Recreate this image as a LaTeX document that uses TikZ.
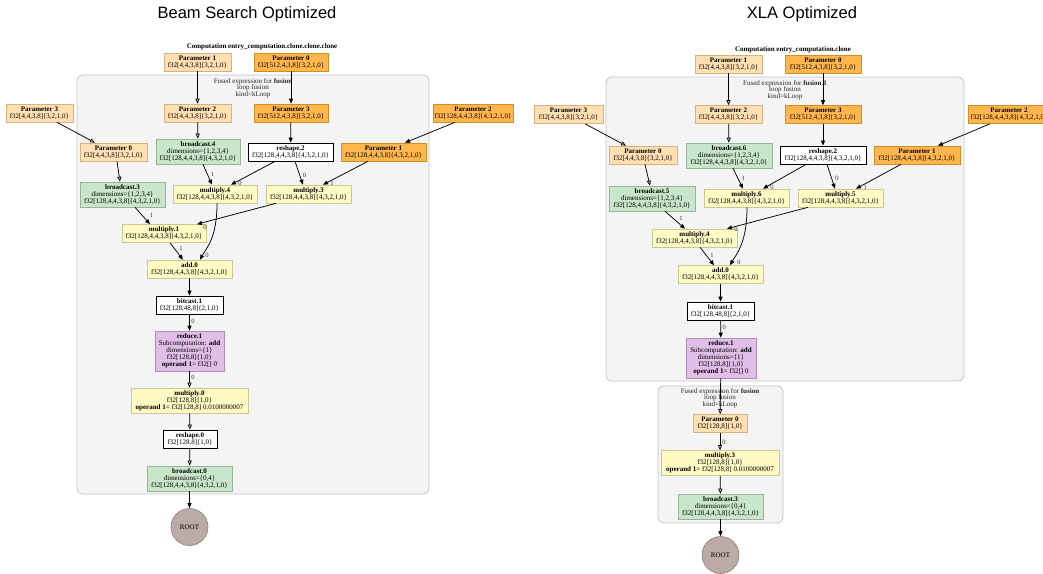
\documentclass[tikz,border=0pt]{standalone}
\usepackage{fontspec}
\setmainfont{Liberation Serif}
\newfontfamily\titlefont{Liberation Sans}
\usetikzlibrary{arrows.meta,calc}

\definecolor{parLfill}{HTML}{FFE0B2}\definecolor{parLdraw}{HTML}{D8B27E}
\definecolor{parDfill}{HTML}{FFB74D}\definecolor{parDdraw}{HTML}{D08F22}
\definecolor{grnfill}{HTML}{C8E6C9}\definecolor{grndraw}{HTML}{97B498}
\definecolor{ylwfill}{HTML}{FFF9C4}\definecolor{ylwdraw}{HTML}{CBC693}
\definecolor{prpfill}{HTML}{E1BEE7}\definecolor{prpdraw}{HTML}{AF8EB5}
\definecolor{brnfill}{HTML}{BCAAA4}\definecolor{brndraw}{HTML}{8C7B75}
\definecolor{clufill}{HTML}{F4F4F4}\definecolor{cludraw}{HTML}{C4C4C4}

\tikzset{
  hlo/.style={rectangle, draw, line width=0.6pt, inner xsep=1pt, inner ysep=1pt,
    align=center, font=\fontsize{7}{7}\selectfont},
  sz/.style 2 args={minimum width=#1pt, minimum height=#2pt},
  lpar/.style={hlo, fill=parLfill, draw=parLdraw},
  dpar/.style={hlo, fill=parDfill, draw=parDdraw},
  grn/.style={hlo, fill=grnfill, draw=grndraw},
  ylw/.style={hlo, fill=ylwfill, draw=ylwdraw},
  prp/.style={hlo, fill=prpfill, draw=prpdraw},
  wht/.style={hlo, fill=white, draw=black, line width=0.8pt},
  rootnode/.style={circle, fill=brnfill, draw=brndraw, line width=0.6pt,
    minimum size=37pt, inner sep=0pt, font=\fontsize{7}{7}\selectfont},
  cluster/.style={fill=clufill, draw=cludraw, line width=0.8pt, rounded corners=6pt},
  clabel/.style={align=center, inner sep=0pt, font=\fontsize{7}{6.7}\selectfont, text=black!85},
  complabel/.style={inner sep=0pt, font=\bfseries\fontsize{7}{7}\selectfont},
  heading/.style={inner sep=0pt, font=\titlefont\fontsize{16.5}{18}\selectfont},
  fa/.style={draw=black, line width=0.75pt, -{Triangle[length=5pt,width=4pt]}},
  oa/.style={draw=black, line width=0.75pt, -{Triangle[open,length=5pt,width=4pt]}},
  elab/.style={inner sep=0pt, font=\fontsize{6.5}{6.5}\selectfont, text=black!80},
}

\begin{document}
\begin{tikzpicture}[x=1pt,y=-1pt]
\useasboundingbox (0,0) rectangle (1043,573);
\clip (0,0) rectangle (1043,573);

% ---------------- Beam search graph ----------------
\node[heading] (lTitle) at (247,14) {Beam Search Optimized};
\node[complabel] (lComp) at (262,47) {Computation entry\_computation.clone.clone.clone};
\path[cluster] (77,75) rectangle (429,494);
\node[clabel] (lFus) at (253,88) {Fused expression for \textbf{fusion}\\loop fusion\\kind=kLoop};

\node[lpar, sz={67}{18}] (lP1) at (197.5,62) {\textbf{Parameter 1}\\f32[4,4,3,8]\{3,2,1,0\}};
\node[dpar, sz={74}{18}] (lP0) at (291,62) {\textbf{Parameter 0}\\f32[512,4,3,8]\{3,2,1,0\}};
\node[lpar, sz={67}{18}] (lP3o) at (39.5,113) {\textbf{Parameter 3}\\f32[4,4,3,8]\{3,2,1,0\}};
\node[lpar, sz={67}{18}] (lP2i) at (197.5,113) {\textbf{Parameter 2}\\f32[4,4,3,8]\{3,2,1,0\}};
\node[dpar, sz={74}{18}] (lP3i) at (291,113) {\textbf{Parameter 3}\\f32[512,4,3,8]\{3,2,1,0\}};
\node[dpar, sz={80}{18}] (lP2o) at (473,113) {\textbf{Parameter 2}\\f32[128,4,4,3,8]\{4,3,2,1,0\}};
\node[lpar, sz={67}{18}] (lP0i) at (113.5,152) {\textbf{Parameter 0}\\f32[4,4,3,8]\{3,2,1,0\}};
\node[grn, sz={84}{25}] (lB4) at (198,151.5) {\textbf{broadcast.4}\\dimensions=\{1,2,3,4\}\\f32[128,4,4,3,8]\{4,3,2,1,0\}};
\node[wht, sz={85}{18}] (lR2) at (290.5,152) {\textbf{reshape.2}\\f32[128,4,4,3,8]\{4,3,2,1,0\}};
\node[dpar, sz={85}{18}] (lP1i) at (383.5,152) {\textbf{Parameter 1}\\f32[128,4,4,3,8]\{4,3,2,1,0\}};
\node[grn, sz={85}{25}] (lB3) at (122.5,194.5) {\textbf{broadcast.3}\\dimensions=\{1,2,3,4\}\\f32[128,4,4,3,8]\{4,3,2,1,0\}};
\node[ylw, sz={84}{18}] (lM4) at (215,194) {\textbf{multiply.4}\\f32[128,4,4,3,8]\{4,3,2,1,0\}};
\node[ylw, sz={85}{18}] (lM3) at (308.5,194) {\textbf{multiply.3}\\f32[128,4,4,3,8]\{4,3,2,1,0\}};
\node[ylw, sz={84}{18}] (lM1) at (164,233.5) {\textbf{multiply.1}\\f32[128,4,4,3,8]\{4,3,2,1,0\}};
\node[ylw, sz={85}{18}] (lA0) at (189.5,269) {\textbf{add.0}\\f32[128,4,4,3,8]\{4,3,2,1,0\}};
\node[wht, sz={67}{18}] (lBc1) at (189.5,305) {\textbf{bitcast.1}\\f32[128,48,8]\{2,1,0\}};
\node[prp, sz={69}{40}] (lRd1) at (189.5,351) {\textbf{reduce.1}\\Subcomputation: \textbf{add}\\dimensions=\{1\}\\f32[128,8]\{1,0\}\\\textbf{operand 1}= f32[] 0};
\node[ylw, sz={117}{25}] (lMu0) at (189.5,400.5) {\textbf{multiply.0}\\f32[128,8]\{1,0\}\\\textbf{operand 1}= f32[128,8] 0.0100000007};
\node[wht, sz={54}{18}] (lRs0) at (190,439) {\textbf{reshape.0}\\f32[128,8]\{1,0\}};
\node[grn, sz={85}{25}] (lBr0) at (189.5,478.5) {\textbf{broadcast.0}\\dimensions=\{0,4\}\\f32[128,4,4,3,8]\{4,3,2,1,0\}};
\node[rootnode] (lRoot) at (189.5,527) {ROOT};

\draw[oa] (lP1) -- (lP2i);
\draw[fa] (lP0) -- (lP3i);
\draw[oa] (lP2i) -- (lB4);
\draw[fa] (lP3i) -- (lR2);
\draw[oa] ([xshift=17.5pt]lP3o.south) -- ([xshift=-18.5pt]lP0i.north);
\draw[fa] ([xshift=-18pt]lP2o.south) -- ([xshift=21.5pt]lP1i.north);
\draw[oa] ([xshift=3.5pt]lP0i.south) -- ([xshift=-2.5pt]lB3.north);
\draw[fa] ([xshift=5pt]lB4.south) -- ([xshift=-3pt]lM4.north) node[elab, at end, xshift=0.5pt, yshift=10pt] {1};
\draw[fa] ([xshift=-15.5pt]lR2.south) -- ([xshift=16pt]lM4.north) node[elab, at end, xshift=9pt, yshift=1pt] {0};
\draw[fa] ([xshift=4.5pt]lR2.south) -- ([xshift=-5.5pt]lM3.north) node[elab, at end, xshift=1.5pt, yshift=9pt] {0};
\draw[fa] ([xshift=-15.5pt]lP1i.south) -- ([xshift=14.5pt]lM3.north) node[elab, at end, xshift=9pt, yshift=1pt] {1};
\draw[fa] ([xshift=12.5pt]lB3.south) -- ([xshift=-14pt]lM1.north) node[elab, at end, xshift=1.5pt, yshift=9pt] {1};
\draw[fa] ([xshift=-32.5pt]lM3.south) -- ([xshift=33pt]lM1.north) node[elab, at end, xshift=8pt, yshift=-3pt] {0};
\draw[fa] ([xshift=2pt]lM4.south) .. controls ($(lM4.south)+(2,35)$) and ($(lA0.north)+(17,-12)$) .. ([xshift=10.5pt]lA0.north) node[elab, at end, xshift=7pt, yshift=4pt] {0};
\draw[fa] ([xshift=6pt]lM1.south) -- ([xshift=-6.5pt]lA0.north) node[elab, at end, xshift=-2pt, yshift=11pt] {1};
\draw[fa] (lA0) -- (lBc1);
\draw[fa] (lBc1) -- (lRd1) node[elab, at end, xshift=3.5pt, yshift=9pt] {0};
\draw[oa] (lRd1) -- (lMu0) node[elab, at end, xshift=3.5pt, yshift=10pt] {0};
\draw[oa] (lMu0) -- (lRs0);
\draw[oa] (lRs0) -- (lBr0);
\draw[fa] (lBr0) -- (lRoot);

% ---------------- XLA graph ----------------
\node[heading] (rTitle) at (802,14) {XLA Optimized};
\node[complabel] (rComp) at (793,50) {Computation entry\_computation.clone};
\path[cluster] (606,77) rectangle (964,381);
\node[clabel] (rFus) at (785,90) {Fused expression for \textbf{fusion.1}\\loop fusion\\kind=kLoop};
\path[cluster] (658,386) rectangle (783,523);
\node[clabel] (rFus2) at (720,398) {Fused expression for \textbf{fusion}\\loop fusion\\kind=kLoop};

\node[lpar, sz={67}{18}] (rP1) at (728.5,64) {\textbf{Parameter 1}\\f32[4,4,3,8]\{3,2,1,0\}};
\node[dpar, sz={76}{18}] (rP0) at (823,64) {\textbf{Parameter 0}\\f32[512,4,3,8]\{3,2,1,0\}};
\node[lpar, sz={69}{18}] (rP3o) at (568.5,114.5) {\textbf{Parameter 3}\\f32[4,4,3,8]\{3,2,1,0\}};
\node[lpar, sz={67}{18}] (rP2i) at (728.5,114.5) {\textbf{Parameter 2}\\f32[4,4,3,8]\{3,2,1,0\}};
\node[dpar, sz={76}{18}] (rP3i) at (823,114.5) {\textbf{Parameter 3}\\f32[512,4,3,8]\{3,2,1,0\}};
\node[dpar, sz={82}{18}] (rP2o) at (1009,114.5) {\textbf{Parameter 2}\\f32[128,4,4,3,8]\{4,3,2,1,0\}};
\node[lpar, sz={68}{18}] (rP0i) at (643,155) {\textbf{Parameter 0}\\f32[4,4,3,8]\{3,2,1,0\}};
\node[grn, sz={86}{25}] (rB6) at (729,155.5) {\textbf{broadcast.6}\\dimensions=\{1,2,3,4\}\\f32[128,4,4,3,8]\{4,3,2,1,0\}};
\node[wht, sz={86}{18}] (rR2) at (823,155) {\textbf{reshape.2}\\f32[128,4,4,3,8]\{4,3,2,1,0\}};
\node[dpar, sz={86}{18}] (rP1i) at (917,155) {\textbf{Parameter 1}\\f32[128,4,4,3,8]\{4,3,2,1,0\}};
\node[grn, sz={86}{25}] (rB5) at (652,198.5) {\textbf{broadcast.5}\\dimensions=\{1,2,3,4\}\\f32[128,4,4,3,8]\{4,3,2,1,0\}};
\node[ylw, sz={85}{18}] (rM6) at (746.5,198) {\textbf{multiply.6}\\f32[128,4,4,3,8]\{4,3,2,1,0\}};
\node[ylw, sz={85}{18}] (rM5) at (840.5,198) {\textbf{multiply.5}\\f32[128,4,4,3,8]\{4,3,2,1,0\}};
\node[ylw, sz={85}{18}] (rM4) at (694.5,238) {\textbf{multiply.4}\\f32[128,4,4,3,8]\{4,3,2,1,0\}};
\node[ylw, sz={85}{18}] (rA0) at (720.5,274.5) {\textbf{add.0}\\f32[128,4,4,3,8]\{4,3,2,1,0\}};
\node[wht, sz={67}{18}] (rBc1) at (720.5,311) {\textbf{bitcast.1}\\f32[128,48,8]\{2,1,0\}};
\node[prp, sz={70}{40}] (rRd1) at (721,358) {\textbf{reduce.1}\\Subcomputation: \textbf{add}\\dimensions=\{1\}\\f32[128,8]\{1,0\}\\\textbf{operand 1}= f32[] 0};
\node[lpar, sz={54}{18}] (rP0b) at (720,423.5) {\textbf{Parameter 0}\\f32[128,8]\{1,0\}};
\node[ylw, sz={118}{25}] (rMu3) at (720,463) {\textbf{multiply.3}\\f32[128,8]\{1,0\}\\\textbf{operand 1}= f32[128,8] 0.0100000007};
\node[grn, sz={85}{25}] (rBr3) at (720.5,506.5) {\textbf{broadcast.3}\\dimensions=\{0,4\}\\f32[128,4,4,3,8]\{4,3,2,1,0\}};
\node[rootnode] (rRoot) at (720.5,555) {ROOT};

\draw[oa] (rP1) -- (rP2i);
\draw[fa] (rP0) -- (rP3i);
\draw[oa] (rP2i) -- (rB6);
\draw[fa] (rP3i) -- (rR2);
\draw[oa] ([xshift=16.5pt]rP3o.south) -- ([xshift=-17pt]rP0i.north);
\draw[fa] ([xshift=-19pt]rP2o.south) -- ([xshift=21pt]rP1i.north);
\draw[oa] ([xshift=2pt]rP0i.south) -- ([xshift=-2pt]rB5.north);
\draw[fa] ([xshift=4pt]rB6.south) -- ([xshift=-3.5pt]rM6.north) node[elab, at end, xshift=0.5pt, yshift=10pt] {1};
\draw[fa] ([xshift=-17pt]rR2.south) -- ([xshift=16.5pt]rM6.north) node[elab, at end, xshift=9pt, yshift=1pt] {0};
\draw[fa] ([xshift=4pt]rR2.south) -- ([xshift=-5.5pt]rM5.north) node[elab, at end, xshift=2pt, yshift=10pt] {0};
\draw[fa] ([xshift=-16pt]rP1i.south) -- ([xshift=15.5pt]rM5.north) node[elab, at end, xshift=9.5pt, yshift=1pt] {1};
\draw[fa] ([xshift=13pt]rB5.south) -- ([xshift=-9.5pt]rM4.north) node[elab, at end, xshift=-4pt, yshift=10pt] {1};
\draw[fa] ([xshift=-32.5pt]rM5.south) -- ([xshift=32.5pt]rM4.north) node[elab, at end, xshift=9pt, yshift=-1pt] {0};
\draw[fa] ([xshift=0.5pt]rM6.south) .. controls ($(rM6.south)+(0.5,35)$) and ($(rA0.north)+(16.5,-12)$) .. ([xshift=9.5pt]rA0.north) node[elab, at end, xshift=9pt, yshift=3pt] {0};
\draw[fa] ([xshift=5.5pt]rM4.south) -- ([xshift=-6.5pt]rA0.north) node[elab, at end, xshift=-2pt, yshift=10pt] {1};
\draw[fa] (rA0) -- (rBc1);
\draw[fa] (rBc1) -- (rRd1) node[elab, at end, xshift=3.5pt, yshift=10pt] {0};
\draw[oa] (rRd1) -- (rP0b);
\draw[oa] (rP0b) -- (rMu3) node[elab, at end, xshift=4pt, yshift=8pt] {0};
\draw[oa] (rMu3) -- (rBr3);
\draw[fa] (rBr3) -- (rRoot);
\end{tikzpicture}
\end{document}
